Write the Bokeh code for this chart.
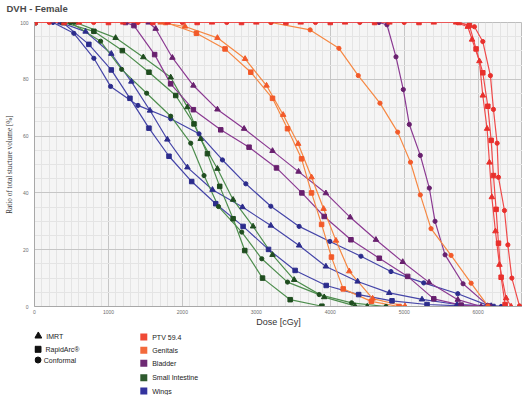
from bokeh.plotting import figure
from bokeh.models import Range1d, FixedTicker, Title
from bokeh.layouts import column
from bokeh.core.properties import value
from bokeh.embed import file_html
from bokeh.resources import INLINE

# ---------------- data (dose in cGy, ratio of volume in %) ----------------
x_ticks = [0, 1000, 2000, 3000, 4000, 5000, 6000]
y_ticks = [0, 20, 40, 60, 80, 100]

structures = ["PTV 59.4", "Genitals", "Bladder", "Small Intestine", "Wings"]
techniques = ["IMRT", "RapidArc\u00ae", "Conformal"]

wings_imrt_dose = [0, 350, 691, 1039, 1310, 1562, 1797, 2068, 2407, 2813, 3196, 3579, 3941, 4370, 4798, 5241, 5715, 6176, 6350]
wings_imrt_vol = [100, 100, 96.8, 89.0, 79.2, 69.0, 58.8, 49.0, 41.1, 35.0, 28.5, 21.5, 14.1, 8.8, 4.8, 2.5, 0.7, 0.2, 0]
wings_rapid_dose = [0, 380, 735, 1039, 1291, 1548, 1819, 2126, 2451, 2821, 3165, 3525, 3945, 4384, 4835, 5309, 5769, 6200]
wings_rapid_vol = [100, 100, 92.3, 83.3, 73.3, 62.8, 52.9, 44.0, 36.2, 28.2, 20.1, 12.7, 7.4, 4.2, 2.0, 0.7, 0.2, 0]
wings_conf_dose = [0, 250, 532, 803, 1029, 1399, 1842, 2225, 2542, 2858, 3196, 3579, 3995, 4415, 4821, 5264, 5725, 6131, 6311]
wings_conf_vol = [100, 100, 96.2, 87.4, 77.5, 70.8, 66.1, 60.8, 51.6, 43.2, 35.3, 28.2, 22.9, 17.7, 12.3, 8.3, 4.5, 0.4, 0]

si_imrt_dose = [0, 555, 1097, 1472, 1842, 2068, 2248, 2474, 2686, 2956, 3219, 3512, 3918, 4334, 4500]
si_imrt_vol = [100, 100, 94.6, 87.8, 80.7, 70.2, 59.0, 48.5, 37.6, 28.2, 18.2, 9.4, 3.3, 0.2, 0]
si_rapid_dose = [0, 393, 803, 1188, 1548, 1910, 2157, 2339, 2505, 2686, 2844, 3084, 3458, 3887]
si_rapid_vol = [100, 100, 96.9, 90.1, 82.5, 74.3, 64.3, 53.8, 42.3, 30.9, 19.7, 10.0, 2.4, 0.1]
si_conf_dose = [0, 487, 894, 1178, 1517, 1842, 2113, 2293, 2488, 2803, 3074, 3422, 3850, 4289, 4754]
si_conf_vol = [100, 100, 93.4, 83.5, 75.1, 67.0, 57.5, 46.1, 35.2, 26.2, 16.8, 8.6, 4.2, 1.3, 0]

bl_imrt_dose = [0, 1544, 1639, 1865, 2149, 2474, 2835, 3219, 3571, 3941, 4270, 4618, 4980, 5336, 5725, 6040]
bl_imrt_vol = [100, 100, 97.8, 87.6, 77.8, 69.4, 62.6, 54.8, 47.5, 39.9, 31.4, 23.5, 15.7, 8.5, 2.4, 0]
bl_rapid_dose = [0, 1232, 1345, 1625, 1842, 2149, 2519, 2902, 3273, 3616, 3918, 4280, 4663, 5047, 5400, 5769, 6153]
bl_rapid_vol = [100, 100, 98.9, 88.7, 78.4, 69.3, 62.2, 56.1, 48.8, 40.0, 31.7, 23.5, 17.0, 10.6, 2.7, 0.5, 0]
bl_conf_dose = [0, 4659, 4767, 4889, 4988, 5069, 5218, 5340, 5417, 5553, 5796, 6131]
bl_conf_vol = [100, 100, 99.2, 87.9, 76.4, 64.1, 53.2, 41.7, 30.0, 18.2, 8.0, 0.4]

gen_imrt_dose = [0, 1706, 2036, 2474, 2848, 3138, 3363, 3566, 3747, 3910, 4077, 4257, 4573, 5011]
gen_imrt_vol = [100, 100, 98.6, 94.6, 87.2, 77.8, 67.5, 57.3, 45.5, 34.4, 23.2, 12.4, 2.8, 0.1]
gen_rapid_dose = [0, 1774, 2190, 2577, 2925, 3219, 3422, 3612, 3747, 3883, 4016, 4175, 4555, 4930]
gen_rapid_vol = [100, 100, 96.2, 90.7, 82.5, 73.3, 62.6, 52.0, 40.0, 28.9, 17.4, 6.2, 1.8, 0]
gen_conf_dose = [0, 3196, 3728, 4117, 4379, 4672, 4912, 5085, 5218, 5363, 5634, 5905, 6131]
gen_conf_vol = [100, 100, 97.4, 90.9, 81.3, 71.6, 61.4, 50.8, 39.3, 27.4, 18.0, 8.2, 0.2]

ptv_imrt_dose = [0, 600, 1200, 1800, 2400, 3000, 3600, 4200, 4800, 5400, 5702, 5860, 5918, 6017, 6063, 6121, 6153, 6185, 6234, 6288, 6379, 6446]
ptv_imrt_vol = [100, 100, 100, 100, 100, 100, 100, 100, 100, 100, 100, 98.5, 94.0, 86.4, 74.3, 62.6, 50.7, 38.5, 26.5, 14.7, 2.9, 0]
ptv_rapid_dose = [0, 400, 1000, 1600, 2200, 2800, 3400, 4000, 4600, 5200, 5742, 5882, 5972, 6063, 6131, 6176, 6207, 6243, 6275, 6311, 6365]
ptv_rapid_vol = [100, 100, 100, 100, 100, 100, 100, 100, 100, 100, 100, 99.0, 90.7, 82.3, 70.5, 58.5, 46.1, 34.2, 22.3, 10.3, 0.7]
ptv_conf_dose = [0, 200, 800, 1400, 2000, 2600, 3200, 3800, 4400, 5000, 5723, 5950, 6063, 6166, 6207, 6257, 6275, 6356, 6402, 6456, 6559]
ptv_conf_vol = [100, 100, 100, 100, 100, 100, 100, 100, 100, 100, 100, 98.5, 93.3, 81.3, 69.4, 57.5, 45.5, 33.8, 21.7, 10.0, 0.2]

# ---------------- styles ----------------
line_col = {"PTV 59.4": "#ef4a4a", "Genitals": "#f68843", "Bladder": "#8b3a92",
            "Small Intestine": "#4e8e4e", "Wings": "#4545a8"}
mark_col = {"PTV 59.4": "#e8302c", "Genitals": "#f25a2a", "Bladder": "#68206e",
            "Small Intestine": "#1f4d1f", "Wings": "#2c2c8c"}
legend_col = {"PTV 59.4": "#f04a36", "Genitals": "#f36a3c", "Bladder": "#6e2a73",
              "Small Intestine": "#2e5a2e", "Wings": "#33339e"}
marker_of = {"IMRT": "triangle", "RapidArc\u00ae": "square", "Conformal": "circle"}
marker_size = {"IMRT": 5.5, "RapidArc\u00ae": 4.5, "Conformal": 4.2}

series = [
    ("Wings", "IMRT", wings_imrt_dose, wings_imrt_vol),
    ("Wings", "RapidArc\u00ae", wings_rapid_dose, wings_rapid_vol),
    ("Wings", "Conformal", wings_conf_dose, wings_conf_vol),
    ("Small Intestine", "IMRT", si_imrt_dose, si_imrt_vol),
    ("Small Intestine", "RapidArc\u00ae", si_rapid_dose, si_rapid_vol),
    ("Small Intestine", "Conformal", si_conf_dose, si_conf_vol),
    ("Bladder", "IMRT", bl_imrt_dose, bl_imrt_vol),
    ("Bladder", "RapidArc\u00ae", bl_rapid_dose, bl_rapid_vol),
    ("Bladder", "Conformal", bl_conf_dose, bl_conf_vol),
    ("Genitals", "IMRT", gen_imrt_dose, gen_imrt_vol),
    ("Genitals", "RapidArc\u00ae", gen_rapid_dose, gen_rapid_vol),
    ("Genitals", "Conformal", gen_conf_dose, gen_conf_vol),
    ("PTV 59.4", "IMRT", ptv_imrt_dose, ptv_imrt_vol),
    ("PTV 59.4", "RapidArc\u00ae", ptv_rapid_dose, ptv_rapid_vol),
    ("PTV 59.4", "Conformal", ptv_conf_dose, ptv_conf_vol),
]

SANS = "Liberation Sans"
SERIF = "Liberation Serif"
W = 522
H_MAIN = 330
H_LEG = 65

# ---------------- chart ----------------
p = figure(width=W, height=H_MAIN, x_range=Range1d(0, 6600), y_range=Range1d(0, 100),
           toolbar_location=None, output_backend="svg",
           min_border_left=34, min_border_right=0, min_border_top=22, min_border_bottom=24)
p.background_fill_color = "#f5f5f5"
p.border_fill_color = "white"
p.outline_line_color = "#bdbdbd"

p.title.text = "DVH - Female"
p.title.text_font = SANS
p.title.text_font_size = "9.5px"
p.title.text_font_style = "bold"
p.title.text_color = "#4a4a4a"
p.title.offset = -28
p.title.standoff = 0
# thin empty spacer between the title and the plot area, lifting the title
p.add_layout(Title(text=" ", text_font_size="7px", standoff=0), "above")

p.xaxis.ticker = FixedTicker(ticks=x_ticks, minor_ticks=list(range(0, 6601, 100)))
p.yaxis.ticker = FixedTicker(ticks=y_ticks, minor_ticks=list(range(0, 101, 5)))
for ax in (p.xaxis, p.yaxis):
    ax.major_tick_line_color = None
    ax.minor_tick_line_color = None
    ax.major_tick_out = 0
    ax.major_tick_in = 0
    ax.axis_line_color = "#a8a8a8"
    ax.major_label_text_font = SANS
    ax.major_label_text_font_size = "5px"
    ax.major_label_text_color = "#6e6e6e"
p.xaxis.major_label_standoff = -1
p.yaxis.major_label_standoff = 2
p.xaxis.axis_label = "Dose [cGy]"
p.xaxis.axis_label_text_font = SANS
p.xaxis.axis_label_text_font_size = "9px"
p.xaxis.axis_label_text_font_style = "normal"
p.xaxis.axis_label_text_color = "#333333"
p.xaxis.axis_label_standoff = 0
p.yaxis.axis_label = "Ratio of total stucture volume [%]"
p.yaxis.axis_label_text_font = SERIF
p.yaxis.axis_label_text_font_size = "7.2px"
p.yaxis.axis_label_text_font_style = "normal"
p.yaxis.axis_label_text_color = "#333333"
p.yaxis.axis_label_standoff = 3

p.grid.grid_line_color = "#c6c6c6"
p.grid.grid_line_width = 1
p.grid.minor_grid_line_color = "#e4e4e4"
p.grid.minor_grid_line_width = 1

for struct, tech, xs, ys in series:
    p.line(xs, ys, line_color=line_col[struct], line_width=1.2)
for struct, tech, xs, ys in series:
    p.scatter(xs, ys, marker=marker_of[tech], size=marker_size[tech],
              fill_color=mark_col[struct], line_color=mark_col[struct])

# ---------------- legend panel (coordinates = page pixels) ----------------
lg = figure(width=W, height=H_LEG, x_range=Range1d(34, W), y_range=Range1d(H_MAIN + H_LEG, H_MAIN),
            toolbar_location=None, output_backend="svg", x_axis_type=None, y_axis_type=None,
            min_border_left=34, min_border_right=0, min_border_top=0, min_border_bottom=0)
lg.outline_line_color = None
lg.grid.visible = False
lg.background_fill_color = "white"
lg.border_fill_color = "white"

tech_mx = [37.8, 37.5, 37.5]
tech_y = [335.5, 348.8, 359.5]
tech_tx = [45.7, 45.0, 43.3]
tech_sz = [7, 6, 6]
for i, t in enumerate(techniques):
    lg.scatter([tech_mx[i]], [tech_y[i]], marker=marker_of[t], size=tech_sz[i],
               fill_color="#111111", line_color="#111111")
lg.text(tech_tx, tech_y, text=techniques, text_font=value(SANS), text_font_size="7px",
        text_baseline="middle", text_color="#222222")

st_y = [336.5, 349.8, 362.8, 377.2, 390.5]
lg.scatter([143.3] * 5, st_y, marker="square", size=7,
           fill_color=[legend_col[s] for s in structures], line_color=None)
lg.text([151.7] * 5, st_y, text=structures, text_font=value(SANS), text_font_size="7px",
        text_baseline="middle", text_color="#222222")

layout = column(p, lg)
open("out.html", "w").write(file_html(layout, INLINE))
